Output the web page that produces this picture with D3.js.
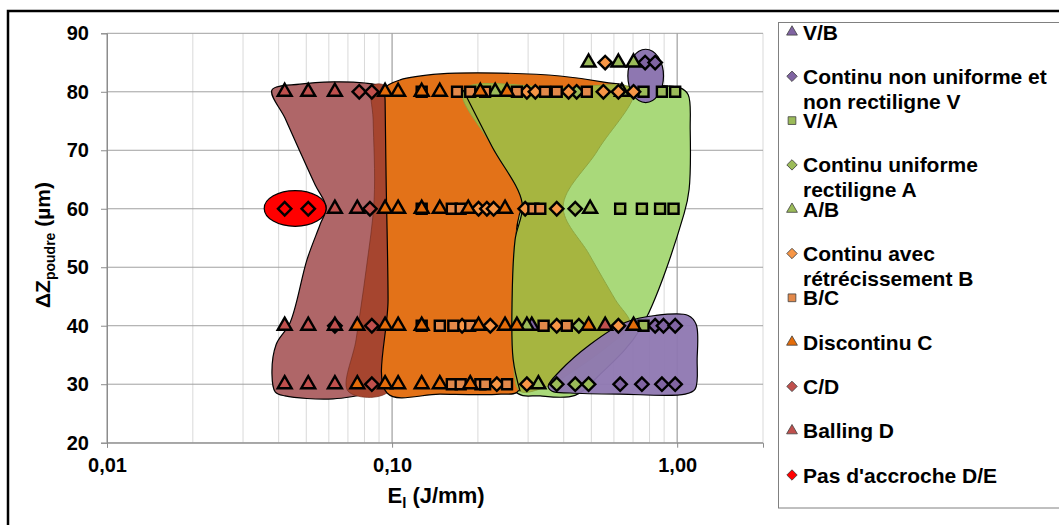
<!DOCTYPE html>
<html><head><meta charset="utf-8">
<script src="https://cdn.jsdelivr.net/npm/d3@7"></script>
<style>
body{margin:0;background:#fff}
svg{display:block;font-family:"Liberation Sans",Arial,sans-serif;font-weight:bold}
</style>
</head><body>
<svg id="chart" width="1059" height="525"></svg>
<script>
// ---------- data ----------
const xTickValues = [0.01, 0.1, 1];
const xTickLabels = ["0,01", "0,10", "1,00"];
const yTickValues = [20, 30, 40, 50, 60, 70, 80, 90];
const xTitle = ["E", "l", " (J/mm)"];
const yTitle = ["\u0394Z", "poudre", " (\u00b5m)"];

const seriesNames = [
  "V/B",
  "Continu non uniforme et|non rectiligne V",
  "V/A",
  "Continu uniforme|rectiligne A",
  "A/B",
  "Continu avec|rétrécissement B",
  "B/C",
  "Discontinu C",
  "C/D",
  "Balling D",
  "Pas d'accroche D/E"
];
const seriesShapes = ["tri","dia","sq","dia","tri","dia","sq","tri","dia","tri","dia"];
const seriesColors = ["#8064A2","#8064A2","#9BBB59","#9BBB59","#9BBB59","#F79646","#E3894A","#E46C0A","#C0504D","#C0504D","#FF0000"];

// points: [E_l (J/mm), dZ (µm)]
const vbPts = [[0.309,40]];
const cnuvPts = [[0.772,85],[0.837,85],[0.837,40],[0.895,40],[0.984,40],[0.631,30],[0.752,30],[0.884,30],[0.984,30]];
const vaPts = [[0.762,80],[0.884,80],[0.984,80],[0.631,60],[0.752,60],[0.871,60],[0.971,60],[0.762,40]];
const curaPts = [[0.444,80],[0.439,60],[0.452,40],[0.378,30],[0.439,30],[0.489,30]];
const abPts = [[0.489,85],[0.622,85],[0.703,85],[0.23,80],[0.64,80],[0.495,60],[0.297,40],[0.326,30]];
const carbPts = [[0.559,85],[0.297,80],[0.318,80],[0.416,80],[0.551,80],[0.622,80],[0.703,80],
  [0.201,60],[0.215,60],[0.227,60],[0.293,60],[0.378,60],[0.176,40],[0.221,40],[0.378,40],[0.622,40],[0.233,30],[0.297,30]];
const bcPts = [[0.127,80],[0.169,80],[0.188,80],[0.212,80],[0.274,80],[0.344,80],[0.378,80],[0.482,80],
  [0.127,60],[0.162,60],[0.174,60],[0.313,60],[0.331,60],
  [0.127,40],[0.147,40],[0.164,40],[0.188,40],[0.34,40],[0.41,40],
  [0.162,30],[0.174,30],[0.204,30],[0.212,30],[0.253,30]];
const discCPts = [[0.0945,80],[0.105,80],[0.127,80],[0.147,80],[0.204,80],[0.253,80],
  [0.0945,60],[0.105,60],[0.127,60],[0.147,60],[0.185,60],[0.249,60],
  [0.0755,40],[0.0945,40],[0.105,40],[0.127,40],[0.201,40],[0.249,40],[0.274,40],[0.489,40],[0.703,40],
  [0.0755,30],[0.0945,30],[0.105,30],[0.127,30],[0.147,30],[0.188,30]];
const cdPts = [[0.0767,80],[0.0849,80],[0.0836,60],[0.063,40],[0.0849,40],[0.0849,30]];
const ballPts = [[0.042,80],[0.0508,80],[0.063,80],[0.063,60],[0.0755,60],[0.042,40],[0.0508,40],[0.063,40],[0.559,40],[0.042,30],[0.0508,30],[0.063,30]];
const pasPts = [[0.042,60],[0.0508,60]];
const seriesPoints = [vbPts, cnuvPts, vaPts, curaPts, abPts, carbPts, bcPts, discCPts, cdPts, ballPts, pasPts];

// hand-drawn regions (outline points in data units)
const ballingArea = [[0.0379,80.3],[0.0475,81.3],[0.0621,81.7],[0.0804,81.5],[0.0908,81.0],[0.0953,80.0],[0.096,61.6],[0.0968,29.15],
  [0.0893,28.7],[0.0621,27.5],[0.0421,28.0],[0.0389,28.7],[0.0379,31.7],[0.0392,36.8],[0.0439,40.56],[0.0503,51.3],
  [0.0559,57.3],[0.0587,60.2],[0.0537,64.1],[0.0472,70.1],[0.0421,75.5]];
const cdArea = [[0.0851,81.0],[0.0945,81.0],[0.0968,61.6],[0.0976,28.8],[0.0701,28.8],[0.0748,37.7],[0.0811,49.6],[0.0865,61.6],[0.0858,75.2]];
const lightGreenArea = [[0.1878,80.67],[0.5368,80.8],[1.0245,80.67],[1.093,79.5],[1.111,73.5],[1.101,63.3],[1.058,59.2],
  [0.7417,39.4],[0.5368,31.7],[0.4385,28.1],[0.3306,28.0],[0.27,28.8],[0.27,61.6]];
const orangeArea = [[0.0945,80.67],[0.1067,82.03],[0.1474,83.05],[0.2393,83.2],[0.3886,82.7],[0.56,81.6],[0.66,80.8],
  [0.5368,75.2],[0.288,60.7],[0.27,51.3],[0.2658,39.4],[0.2767,28.8],[0.2393,28.3],[0.1474,28.3],[0.096,28.5],
  [0.0968,44.5],[0.0953,65.0],[0.0945,78.6]];
const oliveArea = [[0.1775,80.3],[0.2243,70.6],[0.2858,61.0],[0.27,54.7],[0.2636,44.5],[0.2658,34.3],[0.2812,28.8],
  [0.344,29.5],[0.3886,30.8],[0.582,36.8],[0.684,40.2],[0.606,44.5],[0.4913,52.2],[0.398,60.4],[0.528,70.1],
  [0.701,80.3],[0.3886,80.67]];
const purpleArea = [[0.3527,29.65],[0.3886,32.3],[0.495,36.8],[0.657,40.56],[0.8371,41.75],[1.093,41.75],[1.166,40.2],
  [1.175,34.3],[1.156,29.15],[1.067,28.3],[0.631,28.3],[0.4214,28.5],[0.3643,28.8]];
const redEllipse = [[0.0356,57.0],[0.0587,63.1]];
const purpleEllipse = [[0.6714,78.16],[0.8954,87.27]];

// ---------- chart ----------
const svg = d3.select("#chart");
const x = d3.scaleLog().domain([0.01, 2]).range([107, 763]);
const y = d3.scaleLinear().domain([20, 90]).range([442.7, 33.3]);

// outer frame
svg.append("path").attr("d","M8,525V11H1059").attr("fill","none").attr("stroke","#000").attr("stroke-width",2.5);

// grid
const minor = [];
[0.01, 0.1, 1].forEach(d => { for (let k = 2; k <= 9; k++) { const v = d * k; if (v <= 2.0001) minor.push(v); } });
svg.append("g").selectAll("line").data(minor).join("line")
  .attr("x1", d => x(d)).attr("x2", d => x(d)).attr("y1", y(90)).attr("y2", y(20))
  .attr("stroke", "#D9D9D9").attr("stroke-width", 1);
svg.append("g").selectAll("line").data(xTickValues).join("line")
  .attr("x1", d => x(d)).attr("x2", d => x(d)).attr("y1", y(90)).attr("y2", y(20))
  .attr("stroke", "#A6A6A6").attr("stroke-width", 1.3);
svg.append("g").selectAll("line").data(yTickValues).join("line")
  .attr("x1", x(0.01)).attr("x2", x(2)).attr("y1", d => y(d)).attr("y2", d => y(d))
  .attr("stroke", "#A0A0A0").attr("stroke-width", 1);

// axes
const yAxis = d3.axisLeft(y).tickValues(yTickValues).tickSize(6).tickPadding(12).tickFormat(d3.format("d"));
const gy = svg.append("g").attr("transform", `translate(${x(0.01)},0)`).call(yAxis);
gy.select(".domain").attr("stroke", "#8C8C8C");
gy.selectAll(".tick line").attr("stroke", "#8C8C8C");
gy.selectAll("text").attr("font-size", 20).attr("font-weight", "bold").attr("fill", "#000")
  .attr("font-family", '"Liberation Sans",Arial,sans-serif');

const xAxis = d3.axisBottom(x).tickValues(xTickValues).tickSize(5).tickPadding(10)
  .tickFormat((d, i) => xTickLabels[i]);
const gx = svg.append("g").attr("transform", `translate(0,${y(20)})`).call(xAxis);
gx.select(".domain").attr("stroke", "#8C8C8C");
gx.selectAll(".tick line").attr("stroke", "#8C8C8C");
gx.selectAll("text").attr("font-size", 20).attr("font-weight", "bold").attr("fill", "#000")
  .attr("font-family", '"Liberation Sans",Arial,sans-serif');

// regions
const area = d3.line().x(d => x(d[0])).y(d => y(d[1])).curve(d3.curveCatmullRomClosed.alpha(0.5));
const regions = svg.append("g");
regions.append("path").attr("d", area(ballingArea)).attr("fill", "#AF6668").attr("stroke", "#000").attr("stroke-width", 1.2);
regions.append("path").attr("d", area(cdArea)).attr("fill", "#A6452F").attr("stroke", "#6d2a1c").attr("stroke-width", 0.6);
regions.append("path").attr("d", area(lightGreenArea)).attr("fill", "#A9D97A").attr("stroke", "#000").attr("stroke-width", 1.2);
regions.append("path").attr("d", area(orangeArea)).attr("fill", "#E37218").attr("stroke", "#000").attr("stroke-width", 1.2);
regions.append("path").attr("d", area(oliveArea)).attr("fill", "#A6B540").attr("stroke", "#8FA640").attr("stroke-width", 1);
regions.append("path").attr("d", d3.line().x(d => x(d[0])).y(d => y(d[1])).curve(d3.curveCatmullRom.alpha(0.5))(oliveArea.slice(0, 7)))
  .attr("fill", "none").attr("stroke", "#000").attr("stroke-width", 1.2);
regions.append("path").attr("d", area(purpleArea)).attr("fill", "#8E77B1").attr("fill-opacity", 0.95).attr("stroke", "#000").attr("stroke-width", 1.2);
[[redEllipse, "#FF0000"], [purpleEllipse, "#8E77B1"]].forEach(([e, c]) => {
  const x0 = x(e[0][0]), x1 = x(e[1][0]), y0 = y(e[0][1]), y1 = y(e[1][1]);
  regions.append("ellipse").attr("cx", (x0 + x1) / 2).attr("cy", (y0 + y1) / 2)
    .attr("rx", Math.abs(x1 - x0) / 2).attr("ry", Math.abs(y1 - y0) / 2)
    .attr("fill", c).attr("stroke", "#000").attr("stroke-width", 1.2);
});

// markers
function symbolPath(shape, scale) {
  if (shape === "tri") return d3.symbol(d3.symbolTriangle, 84 * scale)();
  if (shape === "sq") return d3.symbol(d3.symbolSquare, 100 * scale)();
  return d3.symbol(d3.symbolSquare, 90 * scale)();
}
const markers = svg.append("g");
seriesPoints.forEach((pts, i) => {
  const shp = seriesShapes[i];
  markers.append("g").selectAll("path").data(pts).join("path")
    .attr("d", symbolPath(shp, 1))
    .attr("transform", d => `translate(${x(d[0])},${y(d[1])})` + (shp === "dia" ? " rotate(45)" : ""))
    .attr("fill", seriesColors[i]).attr("stroke", "#000").attr("stroke-width", 2.4)
    .attr("stroke-linejoin", "miter");
});

// legend
const lg = svg.append("g");
lg.append("rect").attr("x", 778.5).attr("y", 22.5).attr("width", 300).attr("height", 485.5)
  .attr("fill", "#fff").attr("stroke", "#808080").attr("stroke-width", 1);
seriesNames.forEach((name, i) => {
  const cy = 32 + i * 44.3;
  const shp = seriesShapes[i];
  lg.append("path").attr("d", symbolPath(shp, 0.6))
    .attr("transform", `translate(792,${cy})` + (shp === "dia" ? " rotate(45)" : ""))
    .attr("fill", seriesColors[i]).attr("stroke", "#404040").attr("stroke-width", 0.8);
  const t = lg.append("text").attr("x", 803).attr("y", cy + 7.5).attr("font-size", 21).attr("fill", "#000");
  name.split("|").forEach((line, j) => {
    t.append("tspan").attr("x", 803).attr("dy", j === 0 ? 0 : 25).text(line);
  });
});

// axis titles
const xt = svg.append("text").attr("x", 436).attr("y", 503).attr("text-anchor", "middle").attr("font-size", 22).attr("fill", "#000");
xt.append("tspan").text(xTitle[0]);
xt.append("tspan").attr("dy", 5).attr("font-size", 15).text(xTitle[1]);
xt.append("tspan").attr("dy", -5).text(xTitle[2]);

const yt = svg.append("text").attr("transform", "translate(50,245) rotate(-90)").attr("text-anchor", "middle").attr("font-size", 21).attr("fill", "#000");
yt.append("tspan").text(yTitle[0]);
yt.append("tspan").attr("dy", 5).attr("font-size", 14).text(yTitle[1]);
yt.append("tspan").attr("dy", -5).text(yTitle[2]);
</script>
</body></html>
